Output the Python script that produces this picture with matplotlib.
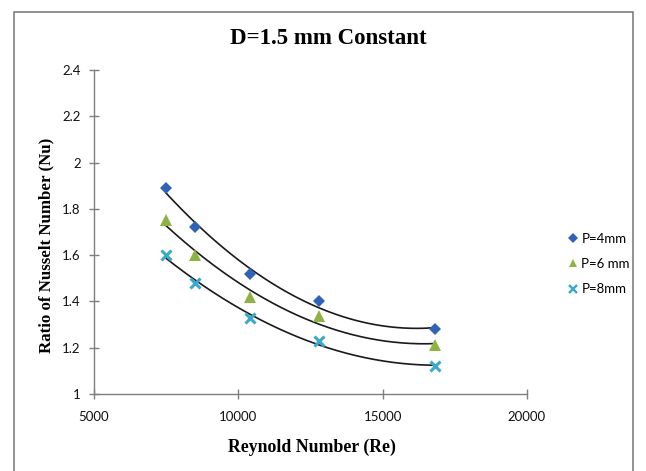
import numpy as np
import matplotlib
matplotlib.use("Agg")
import matplotlib.pyplot as plt
from matplotlib.patches import Rectangle
from matplotlib.lines import Line2D

reynolds = [7500, 8500, 10400, 12800, 16800]
nu_p4 = [1.89, 1.72, 1.52, 1.40, 1.28]
nu_p6 = [1.75, 1.60, 1.42, 1.335, 1.21]
nu_p8 = [1.60, 1.48, 1.33, 1.23, 1.12]
series_labels = ["P=4mm", "P=6 mm", "P=8mm"]
x_ticks = [5000, 10000, 15000, 20000]
y_ticks = [1, 1.2, 1.4, 1.6, 1.8, 2, 2.2, 2.4]
y_tick_labels = ["1", "1.2", "1.4", "1.6", "1.8", "2", "2.2", "2.4"]

fig = plt.figure(figsize=(6.46, 4.71), dpi=100)
ax = fig.add_axes([94/646, 1-394/471, (527-94)/646, (394-70)/471])

tick_font = "Lato"
serif = "Liberation Serif"

styles = [
    dict(marker="D", color="#2E63B8", ms=6.5, mew=0),
    dict(marker="^", color="#8DB342", ms=8, mew=0),
    dict(marker="x", color="#3BA9C9", ms=7, mew=2.2),
]

handles = []
for vals, st, lab in zip([nu_p4, nu_p6, nu_p8], styles, series_labels):
    x = np.array(reynolds, dtype=float)
    y = np.array(vals, dtype=float)
    coef = np.polyfit(x, y, 2)
    xs = np.linspace(x.min(), x.max(), 200)
    ax.plot(xs, np.polyval(coef, xs), color="#1a1a1a", lw=1.2, zorder=2)
    ax.plot(x, y, linestyle="none", marker=st["marker"], color=st["color"],
            ms=st["ms"], mew=st["mew"], zorder=3)
    handles.append(Line2D([], [], linestyle="none", marker=st["marker"], color=st["color"],
                          ms=st["ms"]*0.8, mew=st["mew"]*0.8, label=lab))

ax.set_xlim(5000, 20000)
ax.set_ylim(1, 2.4)
ax.set_xticks(x_ticks)
ax.set_yticks(y_ticks)
ax.set_yticklabels(y_tick_labels)
for s in ["top", "right"]:
    ax.spines[s].set_visible(False)
for s in ["left", "bottom"]:
    ax.spines[s].set_color("#7f7f7f")
    ax.spines[s].set_linewidth(1.0)
ax.tick_params(axis="both", direction="inout", length=7, color="#7f7f7f", width=1.0,
               labelsize=9.5, labelcolor="#111111")
ax.tick_params(axis="x", pad=9)
ax.tick_params(axis="y", pad=6)
for t in ax.get_xticklabels() + ax.get_yticklabels():
    t.set_fontfamily(tick_font)

fig.text(328/646, 1-38/471, "D=1.5 mm Constant", ha="center", va="center",
         fontsize=16.5, fontweight="bold", family=serif)
fig.text(312/646, 1-447/471, "Reynold Number (Re)", ha="center", va="center",
         fontsize=12.8, fontweight="bold", family=serif)
fig.text(46/646, 1-245/471, "Ratio of Nusselt Number (Nu)", ha="center", va="center",
         rotation=90, fontsize=12.2, fontweight="bold", family=serif)

leg = fig.legend(handles=handles, loc="center left", bbox_to_anchor=(555/646, 1-264/471),
                 frameon=False, prop={"family": tick_font, "size": 9.5},
                 handletextpad=0.1, handlelength=1.0, labelspacing=1.0)

fig.patches.append(Rectangle((14/646, -0.02), (633-14)/646, 1-12/471+0.02,
                             transform=fig.transFigure, fill=False,
                             edgecolor="#7f7f7f", lw=1.2))

fig.savefig("out.png", dpi=100)
